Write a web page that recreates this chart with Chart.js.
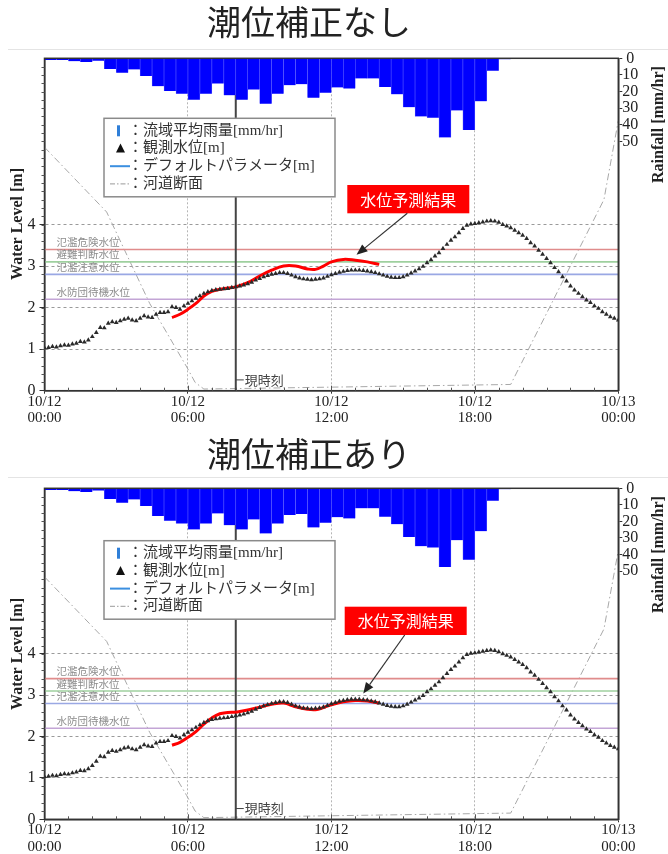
<!DOCTYPE html>
<html lang="ja">
<head>
<meta charset="UTF-8">
<title>水位予測結果</title>
<script src="https://cdn.jsdelivr.net/npm/chart.js@4.4.1/dist/chart.umd.min.js"></script>
<style>
  body { margin: 0; background: #fff; overflow: hidden; }
  .panel { position: relative; width: 668px; height: 430px; }
</style>
</head>
<body>
<div class="panel"><canvas id="chartNoTide"></canvas></div>
<div class="panel"><canvas id="chartTide"></canvas></div>

<script>
// 流域平均雨量 [mm/hr]、30分毎 (10/12 00:00 から)
const rainMm = [
  1.0, 1.0, 1.8, 2.2, 1.4, 6.5, 8.7, 6.7, 10.7, 16.8, 19.6, 21.3,
  24.9, 21.3, 15.2, 22.3, 24.9, 18.8, 27.3, 21.3, 16.2, 15.6, 23.7, 20.8,
  17.5, 18.2, 12.1, 12.1, 17.2, 21.7, 29.4, 35.0, 35.8, 47.6, 31.4, 43.1,
  25.9, 7.5, 0.6, 0, 0, 0, 0, 0, 0, 0, 0, 0
];

// 観測水位 [m]、10分毎 (10/12 00:00 〜 10/13 00:00)
const observedLevel = [
  1.03, 1.04, 1.06, 1.05, 1.08, 1.10,
  1.09, 1.12, 1.14, 1.18, 1.17, 1.22,
  1.30, 1.40, 1.52, 1.51, 1.62, 1.66,
  1.64, 1.68, 1.72, 1.74, 1.70, 1.68,
  1.74, 1.80, 1.77, 1.76, 1.84, 1.88,
  1.88, 1.90, 2.02, 2.00, 1.96, 2.04,
  2.10, 2.16, 2.22, 2.28, 2.34, 2.38,
  2.41, 2.43, 2.44, 2.45, 2.46, 2.48,
  2.50, 2.52, 2.54, 2.57, 2.61, 2.66,
  2.70, 2.74, 2.77, 2.80, 2.82, 2.84,
  2.84, 2.82, 2.78, 2.74, 2.71, 2.69,
  2.68, 2.67, 2.68, 2.69, 2.71, 2.75,
  2.79, 2.82, 2.85, 2.87, 2.89, 2.90,
  2.90, 2.90, 2.89, 2.88, 2.86, 2.84,
  2.81, 2.78, 2.75, 2.73, 2.72, 2.72,
  2.74, 2.78, 2.83, 2.88, 2.93, 2.99,
  3.08, 3.15, 3.24, 3.32, 3.42, 3.52,
  3.62, 3.70, 3.80, 3.90, 3.98, 4.01,
  4.02, 4.04, 4.06, 4.08, 4.09, 4.08,
  4.05, 4.00, 3.96, 3.92, 3.86, 3.80,
  3.74, 3.66, 3.56, 3.48, 3.38, 3.28,
  3.18, 3.08, 2.96, 2.86, 2.74, 2.64,
  2.52, 2.42, 2.34, 2.26, 2.18, 2.12,
  2.04, 1.98, 1.90, 1.84, 1.78, 1.74,
  1.70
];

// 水位予測結果 [m]
const predTimes = ['05:20', '05:40', '06:00', '06:20', '06:40', '07:00', '07:20', '07:40', '08:00',
  '08:30', '09:00', '09:30', '10:00', '10:30', '11:00', '11:20', '11:40', '12:00', '12:30',
  '13:00', '13:30', '14:00'];
const predNoTide = [1.76, 1.84, 1.96, 2.10, 2.28, 2.39, 2.44, 2.47, 2.50,
  2.60, 2.76, 2.90, 3.00, 3.00, 2.93, 2.92, 3.00, 3.10, 3.16,
  3.14, 3.10, 3.04];
const predTide = [1.79, 1.86, 1.98, 2.12, 2.30, 2.45, 2.55, 2.58, 2.59,
  2.64, 2.71, 2.78, 2.81, 2.72, 2.66, 2.65, 2.70, 2.77, 2.84,
  2.87, 2.86, 2.81];

// 河道断面
const sectionTimes = ['00:00', '02:36', '04:24', '05:57', '06:18', '06:40', '19:30', '23:24', '24:00'];
const sectionLevel = [5.86, 4.30, 2.10, 0.57, 0.20, 0.04, 0.15, 4.60, 6.50];

// 基準水位
const levelNames = ['氾濫危険水位', '避難判断水位', '氾濫注意水位', '水防団待機水位'];
const levelValues = [3.4, 3.1, 2.8, 2.2];
const levelColors = ['#e08c8c', '#9fd09f', '#9aa8e4', '#c3a5d6'];

const nowTime = '08:00';
const xTickLabels = [['10/12', '00:00'], ['10/12', '06:00'], ['10/12', '12:00'], ['10/12', '18:00'], ['10/13', '00:00']];
const waterTicks = [0, 1, 2, 3, 4];
const rainTicks = [0, 10, 20, 30, 40, 50];

const legendLabels = ['：流域平均雨量[mm/hr]', '：観測水位[m]', '：デフォルトパラメータ[m]', '：河道断面'];

function toHours(t) {
  const [h, m] = t.split(':').map(Number);
  return h + m / 60;
}

const CJK = '"Noto Sans CJK JP"';
const SERIF = '"Liberation Serif"';
Chart.defaults.font.family = SERIF + ', ' + CJK;

function drawArrow(ctx, x0, y0, x1, y1) {
  const ang = Math.atan2(y1 - y0, x1 - x0);
  const len = 11, half = 4.5;
  ctx.strokeStyle = '#333';
  ctx.fillStyle = '#222';
  ctx.lineWidth = 1.2;
  ctx.beginPath();
  ctx.moveTo(x0, y0);
  ctx.lineTo(x1 - Math.cos(ang) * len, y1 - Math.sin(ang) * len);
  ctx.stroke();
  ctx.beginPath();
  ctx.moveTo(x1, y1);
  ctx.lineTo(x1 - Math.cos(ang) * len - Math.sin(ang) * half, y1 - Math.sin(ang) * len + Math.cos(ang) * half);
  ctx.lineTo(x1 - Math.cos(ang) * len + Math.sin(ang) * half, y1 - Math.sin(ang) * len - Math.cos(ang) * half);
  ctx.closePath();
  ctx.fill();
}

// タイトル・枠・凡例・注記
const panelDecor = {
  id: 'panelDecor',
  afterDraw(chart, args, o) {
    const { ctx, chartArea: a, scales: { x, y } } = chart;
    const px = h => x.getPixelForValue(h);
    const py = v => y.getPixelForValue(v);
    ctx.save();

    // タイトル
    ctx.fillStyle = '#222';
    ctx.font = '34px ' + CJK;
    ctx.textAlign = 'center';
    ctx.textBaseline = 'middle';
    ctx.fillText(o.title, 309, o.titleY);
    ctx.strokeStyle = '#e4e4e4';
    ctx.lineWidth = 1;
    ctx.beginPath();
    ctx.moveTo(8, o.sepY + 0.5);
    ctx.lineTo(chart.width, o.sepY + 0.5);
    ctx.stroke();

    // 枠
    ctx.strokeStyle = '#333';
    ctx.lineWidth = 1.5;
    ctx.strokeRect(a.left, a.top, a.right - a.left, a.bottom - a.top);

    // 補助目盛
    ctx.lineWidth = 1;
    ctx.strokeStyle = '#555';
    ctx.beginPath();
    for (let i = 1; i < 40; i++) {
      const yy = Math.round(py(i * 0.2)) + 0.5;
      ctx.moveTo(a.left - 3, yy);
      ctx.lineTo(a.left, yy);
    }
    for (let h = 1; h < 24; h++) {
      const xx = Math.round(px(h)) + 0.5;
      ctx.moveTo(xx, a.bottom);
      ctx.lineTo(xx, a.bottom - (h % 6 ? 3 : 5));
    }
    ctx.stroke();

    // 基準水位名
    ctx.font = '10.5px ' + CJK;
    ctx.fillStyle = '#8c8c8c';
    ctx.textAlign = 'left';
    levelNames.forEach((name, i) => {
      ctx.fillText(name, px(0.5), py(levelValues[i]) - 7.5);
    });

    // 現時刻
    const nx = px(toHours(nowTime));
    const ny = py(0.26);
    ctx.strokeStyle = '#444';
    ctx.lineWidth = 1;
    ctx.beginPath();
    ctx.moveTo(nx, ny);
    ctx.lineTo(nx + 8, ny);
    ctx.stroke();
    ctx.fillStyle = '#444';
    ctx.font = '13px ' + CJK;
    ctx.fillText('現時刻', nx + 9, ny);

    // 凡例
    const lx = o.legend.x, ly = o.legend.y;
    ctx.fillStyle = '#fff';
    ctx.fillRect(lx, ly, 231, 78.5);
    ctx.strokeStyle = '#8a8a8a';
    ctx.lineWidth = 1.5;
    ctx.strokeRect(lx, ly, 231, 78.5);
    const rowY = i => ly + 12.5 + 17.7 * i;
    ctx.fillStyle = '#2f7fd8';
    ctx.fillRect(lx + 13, rowY(0) - 5.5, 3, 11);
    ctx.fillStyle = '#111';
    ctx.beginPath();
    ctx.moveTo(lx + 16.5, rowY(1) - 5);
    ctx.lineTo(lx + 21, rowY(1) + 4);
    ctx.lineTo(lx + 12, rowY(1) + 4);
    ctx.closePath();
    ctx.fill();
    ctx.strokeStyle = '#3b8fe0';
    ctx.lineWidth = 2;
    ctx.beginPath();
    ctx.moveTo(lx + 6, rowY(2));
    ctx.lineTo(lx + 26, rowY(2));
    ctx.stroke();
    ctx.strokeStyle = '#9a9a9a';
    ctx.lineWidth = 1;
    ctx.setLineDash([5, 2, 1.5, 2]);
    ctx.beginPath();
    ctx.moveTo(lx + 6, rowY(3));
    ctx.lineTo(lx + 26, rowY(3));
    ctx.stroke();
    ctx.setLineDash([]);
    ctx.fillStyle = '#333';
    ctx.font = '15px ' + SERIF + ', ' + CJK;
    ctx.textAlign = 'left';
    legendLabels.forEach((t, i) => ctx.fillText(t, lx + 24, rowY(i)));

    // 水位予測結果の注記
    const b = o.note;
    ctx.fillStyle = '#ff0000';
    ctx.fillRect(b.x, b.y, 122, 28.3);
    ctx.fillStyle = '#fff';
    ctx.font = '16px ' + CJK;
    ctx.textAlign = 'center';
    ctx.fillText('水位予測結果', b.x + 61, b.y + 14.5);
    drawArrow(ctx, b.x + 60, b.y + 28.3, px(toHours(b.tipTime)), py(b.tipLevel));

    // 軸タイトル
    ctx.fillStyle = '#222';
    ctx.font = 'bold 16px ' + SERIF;
    ctx.textAlign = 'center';
    ctx.save();
    ctx.translate(18, 224);
    ctx.rotate(-Math.PI / 2);
    ctx.fillText('Water Level [m]', 0, 0);
    ctx.restore();
    ctx.save();
    ctx.translate(659, 124.5);
    ctx.rotate(-Math.PI / 2);
    ctx.fillText('Rainfall [mm/hr]', 0, 0);
    ctx.restore();

    ctx.restore();
  }
};

function buildChart(id, pred, o) {
  const lineBase = { type: 'line', pointRadius: 0, fill: false, xAxisID: 'x', yAxisID: 'y' };
  const datasets = [
    {
      type: 'bar', label: '流域平均雨量',
      data: rainMm.map((v, i) => ({ x: i * 0.5 + 0.25, y: v })),
      backgroundColor: '#0000ff', borderColor: '#5c5cff',
      borderWidth: { left: 0.6, right: 0.6, top: 0, bottom: 0 }, borderSkipped: false,
      barPercentage: 1, categoryPercentage: 1, grouped: false,
      xAxisID: 'x', yAxisID: 'yR', order: 1
    },
    {
      ...lineBase, label: '観測水位',
      data: observedLevel.map((v, i) => ({ x: i / 6, y: v })),
      showLine: false, pointStyle: 'triangle', pointRadius: 2.8,
      pointBackgroundColor: '#2a2a2a', pointBorderColor: '#2a2a2a', pointBorderWidth: 0,
      order: 2
    },
    {
      ...lineBase, label: '水位予測結果',
      data: predTimes.map((t, i) => ({ x: toHours(t), y: pred[i] })),
      borderColor: '#ff0000', borderWidth: 3, tension: 0.4, order: 3
    },
    {
      ...lineBase, label: '現時刻',
      data: [{ x: toHours(nowTime), y: 0 }, { x: toHours(nowTime), y: 8 }],
      borderColor: '#444', borderWidth: 2, order: 4
    },
    ...levelValues.map((v, i) => ({
      ...lineBase, label: levelNames[i],
      data: [{ x: 0, y: v }, { x: 24, y: v }],
      borderColor: levelColors[i], borderWidth: 1.6, order: 5
    })),
    {
      ...lineBase, label: '河道断面',
      data: sectionTimes.map((t, i) => ({ x: toHours(t), y: sectionLevel[i] })),
      borderColor: '#a8a8a8', borderWidth: 1, borderDash: [7, 3, 1.5, 3], order: 6
    }
  ];

  return new Chart(document.getElementById(id), {
    type: 'bar',
    data: { datasets },
    options: {
      responsive: true,
      maintainAspectRatio: false,
      animation: false,
      layout: { padding: { top: 58.3, left: 0, right: 0, bottom: 0 } },
      plugins: { legend: { display: false }, tooltip: { enabled: false }, panelDecor: o },
      scales: {
        x: {
          type: 'linear', min: 0, max: 24, offset: false,
          ticks: {
            stepSize: 6, autoSkip: false, maxRotation: 0, padding: 0,
            color: '#222', font: { size: 15, lineHeight: 1.1 },
            callback: v => xTickLabels[v / 6]
          },
          grid: { color: '#b5b5b5', tickColor: '#333', tickLength: 3, offset: false },
          border: { color: '#333', width: 1.5, dash: [2, 2] },
          afterFit: s => { s.height = o.xHeight; }
        },
        y: {
          type: 'linear', position: 'left', min: 0, max: 8,
          afterBuildTicks: s => { s.ticks = waterTicks.map(v => ({ value: v })); },
          ticks: { color: '#222', padding: 4, font: { size: 16 } },
          grid: { color: '#9a9a9a', tickColor: '#333', tickLength: 5 },
          border: { color: '#333', width: 1.5, dash: [3, 3] },
          afterFit: s => { s.width = 44.5; }
        },
        yR: {
          type: 'linear', position: 'right', min: 0, max: 200, reverse: true,
          afterBuildTicks: s => { s.ticks = rainTicks.map(v => ({ value: v })); },
          ticks: { color: '#222', padding: 0, crossAlign: 'center', font: { size: 16 } },
          grid: { drawOnChartArea: false, tickColor: '#333', tickLength: 4 },
          border: { color: '#333', width: 1.5 },
          afterFit: s => { s.width = 49.7; }
        }
      }
    },
    plugins: [panelDecor]
  });
}

buildChart('chartNoTide', predNoTide, {
  title: '潮位補正なし', titleY: 22, sepY: 49, xHeight: 39.3,
  legend: { x: 104, y: 118.3 },
  note: { x: 347.3, y: 185, tipTime: '13:03', tipLevel: 3.27 }
});

buildChart('chartTide', predTide, {
  title: '潮位補正あり', titleY: 24, sepY: 47, xHeight: 40.7,
  legend: { x: 104, y: 110.7 },
  note: { x: 344.7, y: 176.7, tipTime: '13:20', tipLevel: 3.04 }
});
</script>
</body>
</html>
